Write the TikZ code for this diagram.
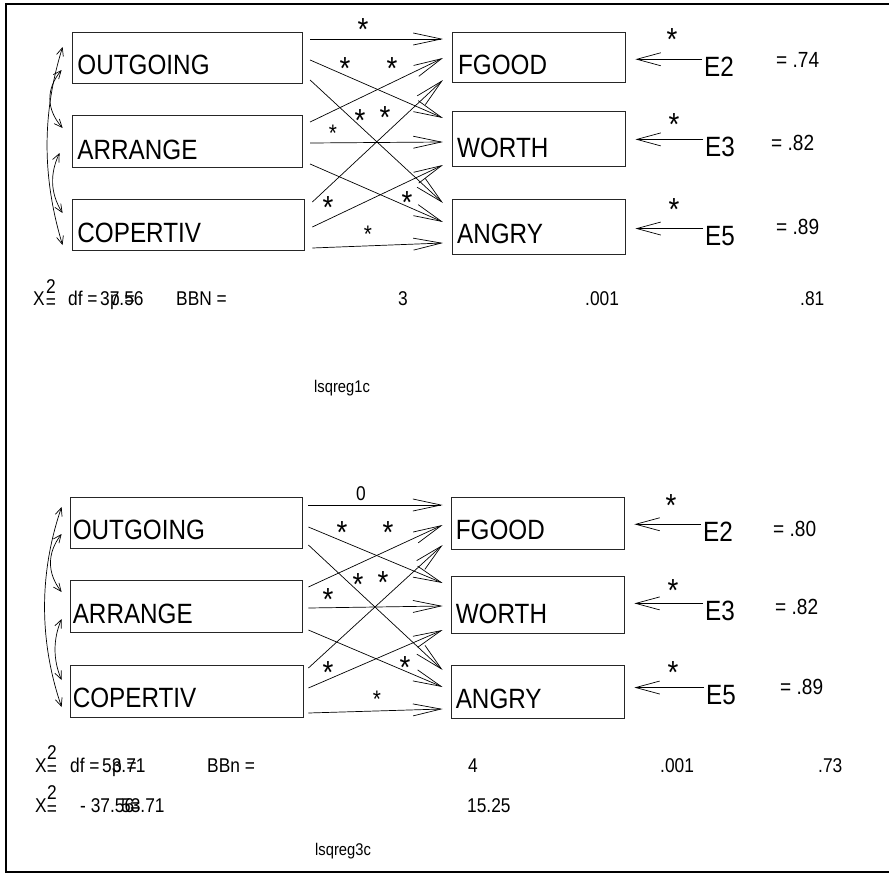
\documentclass[tikz,border=0pt]{standalone}
\usepackage{fontspec}
\setmainfont{Liberation Sans}[FakeStretch=0.87]
\usetikzlibrary{arrows.meta,calc}
\begin{document}
\begin{tikzpicture}[x=1bp,y=-1bp,
  box/.style={draw=black!85, line width=0.8bp, inner sep=0},
  lbl/.style={font=\fontsize{28}{28}\selectfont, inner sep=0, anchor=base west},
  etext/.style={font=\fontsize{28}{28}\selectfont, inner sep=0, anchor=base west},
  bigstar/.style={font=\fontsize{32}{32}\selectfont, inner sep=0, anchor=base},
  smallstar/.style={font=\fontsize{24}{24}\selectfont, inner sep=0, anchor=base},
  val/.style={font=\fontsize{22}{22}\selectfont, inner sep=0, anchor=west},
  stat/.style={font=\fontsize{20}{20}\selectfont, inner sep=0, anchor=base west},
  statc/.style={font=\fontsize{20}{20}\selectfont, inner sep=0, anchor=base},
  fname/.style={font=\fontsize{17}{17}\selectfont, inner sep=0, anchor=base west},
  patharr/.style={line width=0.7bp, -{Straight Barb[length=28bp,width=12bp]}},
  earr/.style={line width=0.7bp, -{Straight Barb[length=24bp,width=13bp]}},
  corr/.style={line width=0.7bp, {Straight Barb[length=8bp,width=7bp]}-{Straight Barb[length=8bp,width=7bp]}}
]
\useasboundingbox (0,0) rectangle (889,873);
% frame
\draw[line width=2.2bp] (895,3.7) -- (6,3.7) -- (6,871.8) -- (895,871.8);

% ===== top model =====
\node[box, minimum width=230bp, minimum height=50.7bp] (o1) at (187.7,57.7) {};
\node[box, minimum width=230bp, minimum height=52.4bp] (a1) at (187.7,141.5) {};
\node[box, minimum width=231.3bp, minimum height=51.4bp] (c1) at (188.3,225) {};
\node[box, minimum width=172.7bp, minimum height=50.4bp] (f1) at (538.7,57.5) {};
\node[box, minimum width=172.7bp, minimum height=55.4bp] (w1) at (538.7,139) {};
\node[box, minimum width=172.7bp, minimum height=55.3bp] (g1) at (538.7,226.7) {};
\node[lbl] (o1l) at ($(o1.south west)+(5,-9)$) {OUTGOING};
\node[lbl] (a1l) at ($(a1.south west)+(5,-9)$) {ARRANGE};
\node[lbl] (c1l) at ($(c1.south west)+(5,-9)$) {COPERTIV};
\node[lbl] (f1l) at ($(f1.south west)+(6,-9)$) {FGOOD};
\node[lbl] (w1l) at ($(w1.south west)+(5,-10)$) {WORTH};
\node[lbl] (g1l) at ($(g1.south west)+(5,-11)$) {ANGRY};

\draw[patharr] ($(o1.east)+(7,-18.7)$) -- ($(f1.west)+(-9,-18.5)$);
\draw[patharr] ($(o1.east)+(7,2.3)$) -- ($(w1.west)+(-9,-21)$);
\draw[patharr] ($(o1.east)+(7,22.3)$) -- ($(g1.west)+(-9,-23.7)$);
\draw[patharr] ($(a1.east)+(7,-19.5)$) -- ($(f1.west)+(-9,0.5)$);
\draw[patharr] ($(a1.east)+(7,1.5)$) -- ($(w1.west)+(-9,3)$);
\draw[patharr] ($(a1.east)+(7,22.5)$) -- ($(g1.west)+(-9,-4.7)$);
\draw[patharr] ($(c1.east)+(8,-23)$) -- ($(f1.west)+(-9,22.5)$);
\draw[patharr] ($(c1.east)+(8,2)$) -- ($(w1.west)+(-9,26)$);
\draw[patharr] ($(c1.east)+(8,23)$) -- ($(g1.west)+(-9,16.3)$);

\node[bigstar] (s1a) at (363,40) {*};
\node[bigstar] (s1b) at (345,79) {*};
\node[bigstar] (s1c) at (392,79) {*};
\node[bigstar] (s1d) at (360,131) {*};
\node[bigstar] (s1e) at (385,128) {*};
\node[smallstar] (s1f) at (333,141) {*};
\node[bigstar] (s1g) at (328,218) {*};
\node[bigstar] (s1h) at (407,213) {*};
\node[smallstar] (s1i) at (368,242) {*};

\draw[corr] ($(o1.west)+(-9.7,-10.7)$) .. controls (42,113) and (42,177) .. ($(c1.west)+(-9.7,20)$);
\draw[corr] ($(o1.west)+(-10.7,12.3)$) .. controls (46,89) and (46,109) .. ($(a1.west)+(-9.7,-13.5)$);
\draw[corr] ($(a1.west)+(-12.7,11.5)$) .. controls (50,173) and (50,193) .. ($(c1.west)+(-9.7,-12)$);

\coordinate (f1t) at ($(f1.east)+(10,0)$);
\coordinate (w1t) at ($(w1.east)+(10,0)$);
\coordinate (g1t) at ($(g1.east)+(10,0)$);
\node[etext] (e2a) at (704,76) {E2};
\node[etext] (e3a) at (705,156) {E3};
\node[etext] (e5a) at (705,245) {E5};
\coordinate (e2as) at ($(e2a.west)+(-2,-7)$);
\coordinate (e3as) at ($(e3a.west)+(-2,-7)$);
\coordinate (e5as) at ($(e5a.west)+(-2,-7)$);
\draw[earr] (e2as) -- (f1t |- e2as);
\draw[earr] (e3as) -- (w1t |- e3as);
\draw[earr] (e5as) -- (g1t |- e5as);
\node[bigstar] (se2a) at (672,50) {*};
\node[bigstar] (se3a) at (674,135) {*};
\node[bigstar] (se5a) at (674,220) {*};
\node[val] (v2a) at (776,60) {= .74};
\node[val] (v3a) at (771,143) {= .82};
\node[val] (v5a) at (776,227) {= .89};

% stats row 1
\node[stat] (xa) at (33,305) {X};
\node[statc] (xa2) at (51,293) {2};
\node[statc] (xaeq) at (51,308) {=};
\node[stat] (dfa) at (68,305) {df =};
\node[stat] (chia) at (100,305) {37.56};
\node[stat] (pa) at (110,305) {p =};
\node[stat] (bbna) at (176,305) {BBN =};
\node[statc] (dfva) at (403,305) {3};
\node[stat] (pva) at (585,305) {.001};
\node[stat] (bbva) at (800,305) {.81};
\node[fname] (fn1) at (314,392) {lsqreg1c};

% ===== bottom model =====
\node[box, minimum width=232bp, minimum height=51bp] (o2) at (186,523.2) {};
\node[box, minimum width=232bp, minimum height=52bp] (a2) at (186,606.7) {};
\node[box, minimum width=233bp, minimum height=52bp] (c2) at (186.5,691) {};
\node[box, minimum width=173bp, minimum height=51.3bp] (f2) at (537.5,523.3) {};
\node[box, minimum width=173bp, minimum height=56.3bp] (w2) at (537.5,604.8) {};
\node[box, minimum width=173bp, minimum height=53bp] (g2) at (537.5,691.5) {};
\node[lbl] (o2l) at ($(o2.south west)+(3,-10)$) {OUTGOING};
\node[lbl] (a2l) at ($(a2.south west)+(3,-10)$) {ARRANGE};
\node[lbl] (c2l) at ($(c2.south west)+(3,-10)$) {COPERTIV};
\node[lbl] (f2l) at ($(f2.south west)+(5,-10)$) {FGOOD};
\node[lbl] (w2l) at ($(w2.south west)+(5,-10)$) {WORTH};
\node[lbl] (g2l) at ($(g2.south west)+(5,-10)$) {ANGRY};

\draw[patharr] ($(o2.east)+(6,-18.2)$) -- ($(f2.west)+(-8,-18.3)$);
\draw[patharr] ($(o2.east)+(6,3.8)$) -- ($(w2.west)+(-8,-21.8)$);
\draw[patharr] ($(o2.east)+(6,21.8)$) -- ($(g2.west)+(-8,-21.5)$);
\draw[patharr] ($(a2.east)+(6,-19.7)$) -- ($(f2.west)+(-8,1.7)$);
\draw[patharr] ($(a2.east)+(6,1.3)$) -- ($(w2.west)+(-8,1.2)$);
\draw[patharr] ($(a2.east)+(6,23.3)$) -- ($(g2.west)+(-8,-4.5)$);
\draw[patharr] ($(c2.east)+(5,-23)$) -- ($(f2.west)+(-8,21.7)$);
\draw[patharr] ($(c2.east)+(5,-3)$) -- ($(w2.west)+(-8,25.2)$);
\draw[patharr] ($(c2.east)+(5,22)$) -- ($(g2.west)+(-8,17.5)$);

\node[statc] (z2a) at (361,500) {0};
\node[bigstar] (s2b) at (342,543) {*};
\node[bigstar] (s2c) at (388,543) {*};
\node[bigstar] (s2d) at (358,595) {*};
\node[bigstar] (s2e) at (383,593) {*};
\node[bigstar] (s2f) at (328,610) {*};
\node[bigstar] (s2g) at (328,683) {*};
\node[bigstar] (s2h) at (405,678) {*};
\node[smallstar] (s2i) at (377,707) {*};

\draw[corr] ($(o2.west)+(-8,-16.2)$) .. controls (39,573) and (39,641) .. ($(c2.west)+(-8,16)$);
\draw[corr] ($(o2.west)+(-8,10.8)$) .. controls (47,553) and (47,573) .. ($(a2.west)+(-8,-14.7)$);
\draw[corr] ($(a2.west)+(-8,12.3)$) .. controls (53,639) and (53,660) .. ($(c2.west)+(-8,-11)$);

\coordinate (f2t) at ($(f2.east)+(10,0)$);
\coordinate (w2t) at ($(w2.east)+(10,0)$);
\coordinate (g2t) at ($(g2.east)+(10,0)$);
\node[etext] (e2b) at (703,541) {E2};
\node[etext] (e3b) at (705,620) {E3};
\node[etext] (e5b) at (706,704) {E5};
\coordinate (e2bs) at ($(e2b.west)+(-2,-7)$);
\coordinate (e3bs) at ($(e3b.west)+(-2,-7)$);
\coordinate (e5bs) at ($(e5b.west)+(-2,-7)$);
\draw[earr] (e2bs) -- (f2t |- e2bs);
\draw[earr] (e3bs) -- (w2t |- e3bs);
\draw[earr] (e5bs) -- (g2t |- e5bs);
\node[bigstar] (se2b) at (671,516) {*};
\node[bigstar] (se3b) at (673,601) {*};
\node[bigstar] (se5b) at (673,683) {*};
\node[val] (v2b) at (773,529) {= .80};
\node[val] (v3b) at (775,607) {= .82};
\node[val] (v5b) at (780,687) {= .89};

% stats rows 2 and 3
\node[stat] (xb) at (35,772) {X};
\node[statc] (xb2) at (52,759) {2};
\node[statc] (xbeq) at (52,775) {=};
\node[stat] (dfb) at (70,772) {df =};
\node[stat] (chib) at (102,772) {53.71};
\node[stat] (pb) at (112,772) {p =};
\node[stat] (bbnb) at (207,772) {BBn =};
\node[statc] (dfvb) at (473,772) {4};
\node[stat] (pvb) at (660,772) {.001};
\node[stat] (bbvb) at (818,772) {.73};

\node[stat] (xc) at (35,812) {X};
\node[statc] (xc2) at (52,799) {2};
\node[statc] (xceq) at (52,815) {=};
\node[stat] (chic1) at (80,812) {- 37.56};
\node[stat] (chic2) at (121,812) {53.71};
\node[stat] (eqc) at (130,812) {=};
\node[stat] (dchi) at (467,812) {15.25};
\node[fname] (fn3) at (315,855) {lsqreg3c};
\end{tikzpicture}
\end{document}
